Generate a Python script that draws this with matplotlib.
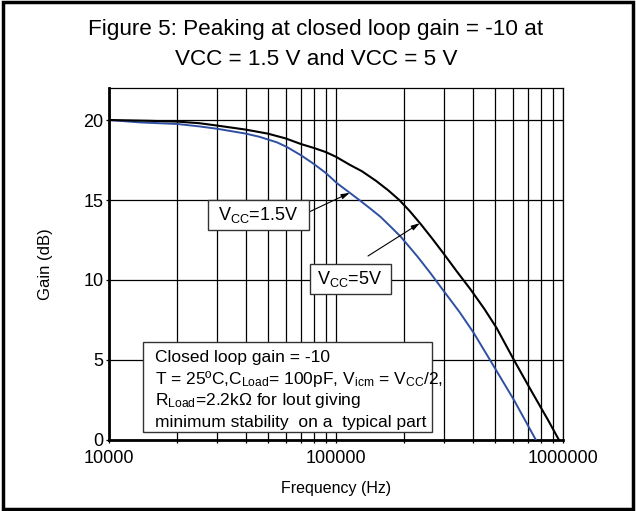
import matplotlib
matplotlib.use("Agg")
import matplotlib.pyplot as plt
from matplotlib.patches import Rectangle
from matplotlib.ticker import FixedLocator, NullFormatter, FixedFormatter

plt.rcParams['font.family'] = ['Liberation Sans', 'DejaVu Sans']
plt.rcParams['mathtext.fontset'] = 'custom'
plt.rcParams['mathtext.rm'] = 'Liberation Sans'
plt.rcParams['mathtext.it'] = 'Liberation Sans'

# ---- data ----
freq_5v = [10000, 15000, 20000, 25000, 30000, 40000, 50000, 60000, 70000, 80000,
           90000, 100000, 115000, 130000, 150000, 170000, 190000, 210000, 236000,
           265000, 298000, 340000, 392000, 450000, 510000, 608000, 723000, 859000,
           960000]
gain_5v = [20.0, 19.95, 19.9, 19.8, 19.65, 19.4, 19.15, 18.85, 18.5, 18.25,
           18.0, 17.7, 17.2, 16.8, 16.2, 15.6, 15.0, 14.35, 13.5,
           12.6, 11.65, 10.55, 9.4, 8.2, 7.0, 5.0, 3.1, 1.25,
           0.0]

freq_15v = [10000, 13700, 20000, 25000, 30000, 40000, 46000, 55000, 61000, 70000,
            79000, 90000, 101000, 115000, 128000, 142000, 157000, 175000, 193000,
            229000, 260000, 295000, 350000, 404000, 496000, 608000, 760000]
gain_15v = [20.0, 19.85, 19.75, 19.6, 19.45, 19.15, 18.95, 18.6, 18.3, 17.8,
            17.3, 16.7, 16.05, 15.45, 14.95, 14.45, 13.95, 13.3, 12.7,
            11.45, 10.45, 9.4, 8.0, 6.7, 4.6, 2.5, 0.0]

y_ticks = [0, 5, 10, 15, 20]
x_tick_vals = [10000, 100000, 1000000]
x_tick_labels = ["10000", "100000", "1000000"]

title_lines = ["Figure 5: Peaking at closed loop gain = -10 at",
               "VCC = 1.5 V and VCC = 5 V"]
note_lines = ["Closed loop gain = -10",
              r"T = 25ºC,C$_{\mathrm{Load}}$= 100pF, V$_{\mathrm{icm}}$ = V$_{\mathrm{CC}}$/2,",
              r"R$_{\mathrm{Load}}$=2.2kΩ for Iout giving",
              "minimum stability  on a  typical part"]
label_15v = r"V$_{\mathrm{CC}}$=1.5V"
label_5v = r"V$_{\mathrm{CC}}$=5V"

W, H = 636, 511
fig = plt.figure(figsize=(W / 100, H / 100), dpi=100)

def fx(px):
    return px / W

def fy(py):
    return 1 - py / H

ax = fig.add_axes([fx(109), fy(440), fx(563) - fx(109), fy(88) - fy(440)])
ax.set_xscale('log')
ax.set_xlim(1e4, 1e6)
ax.set_ylim(0, 22)

ax.plot(freq_15v, gain_15v, color='#2f4fa3', lw=1.4, zorder=3)
ax.plot(freq_5v, gain_5v, color='black', lw=1.5, zorder=3)

ax.xaxis.set_major_locator(FixedLocator(x_tick_vals))
ax.xaxis.set_major_formatter(FixedFormatter(x_tick_labels))
ax.xaxis.set_minor_locator(FixedLocator([m * d for d in (1e4, 1e5) for m in range(2, 10)]))
ax.xaxis.set_minor_formatter(NullFormatter())
ax.set_yticks(y_ticks)
ax.grid(True, which='both', axis='x', color='black', lw=0.9)
ax.grid(True, which='major', axis='y', color='black', lw=0.9)
ax.tick_params(axis='both', which='both', length=2, width=0.9, direction='out',
               labelsize=13, colors='black')
ax.tick_params(axis='x', pad=5)
ax.tick_params(axis='y', pad=2)
for s in ('left', 'bottom'):
    ax.spines[s].set_linewidth(2.0)
for s in ('top', 'right'):
    ax.spines[s].set_linewidth(0.9)

ax.set_xlabel("Frequency (Hz)", fontsize=11.5, labelpad=10)
ax.set_ylabel("Gain (dB)", fontsize=12, labelpad=22)

# title
fig.text(fx(316), fy(35), title_lines[0], fontsize=16.2, ha='center', va='baseline')
fig.text(fx(316), fy(65), title_lines[1], fontsize=16.2, ha='center', va='baseline')

# note box
fig.add_artist(Rectangle((fx(143), fy(432)), fx(432) - fx(143), fy(342) - fy(432),
                         transform=fig.transFigure, facecolor='white',
                         edgecolor='#333333', lw=1.0, zorder=5))
for i, line in enumerate(note_lines):
    fig.text(fx(155), fy(362 + 21.7 * i), line, fontsize=12.5, ha='left',
             va='baseline', zorder=6)

# VCC label boxes
fig.add_artist(Rectangle((fx(208), fy(230)), fx(309) - fx(208), fy(200) - fy(230),
                         transform=fig.transFigure, facecolor='white',
                         edgecolor='#333333', lw=1.0, zorder=5))
fig.text(fx(258), fy(215), label_15v, fontsize=13, ha='center', va='center', zorder=6)
fig.add_artist(Rectangle((fx(310), fy(294)), fx(391) - fx(310), fy(264) - fy(294),
                         transform=fig.transFigure, facecolor='white',
                         edgecolor='#333333', lw=1.0, zorder=5))
fig.text(fx(350), fy(279), label_5v, fontsize=13, ha='center', va='center', zorder=6)

# arrows
ax.annotate("", xy=(115000, 15.45), xycoords='data',
            xytext=(309, H - 212), textcoords='figure pixels',
            arrowprops=dict(arrowstyle='-|>,head_length=0.5,head_width=0.15',
                            color='black', lw=0.8, shrinkA=0, shrinkB=0), zorder=7)
ax.annotate("", xy=(234000, 13.55), xycoords='data',
            xytext=(368, H - 256), textcoords='figure pixels',
            arrowprops=dict(arrowstyle='-|>,head_length=0.5,head_width=0.15',
                            color='black', lw=0.8, shrinkA=0, shrinkB=0), zorder=7)

# figure border
fig.add_artist(Rectangle((fx(2.5), fy(509)), fx(633) - fx(2.5), fy(2.5) - fy(509),
                         transform=fig.transFigure, facecolor='none',
                         edgecolor='black', lw=2.5, zorder=10))

fig.savefig("out.png", dpi=100)
